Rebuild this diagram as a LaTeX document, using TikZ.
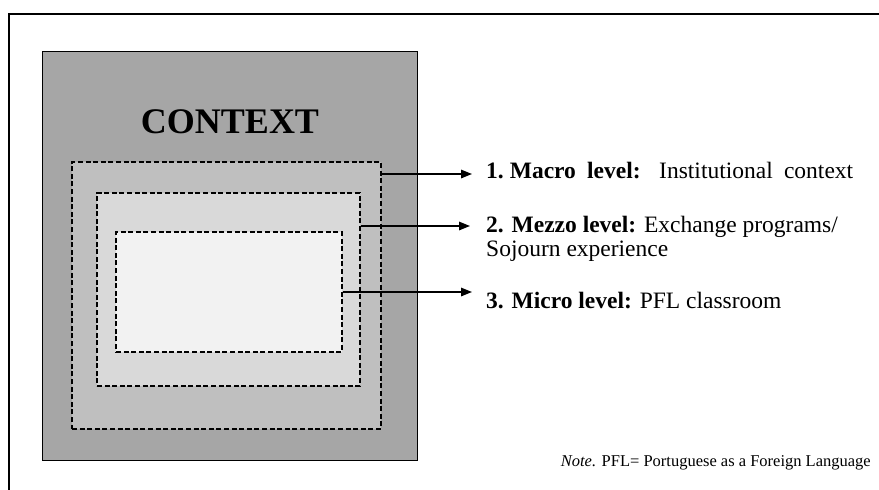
\documentclass[tikz,border=0pt]{standalone}
\usepackage{fontspec}
\setmainfont{Liberation Serif}
\usetikzlibrary{arrows.meta}
\definecolor{ctxgray}{HTML}{A6A6A6}
\definecolor{macrogray}{HTML}{BFBFBF}
\definecolor{mezzogray}{HTML}{D9D9D9}
\definecolor{microgray}{HTML}{F2F2F2}
\tikzset{
  levelbox/.style={draw=black, line width=1.1pt, dash pattern=on 5pt off 2.6pt, inner sep=0pt},
  leveltext/.style={anchor=base west, inner sep=0pt, font=\fontsize{23.5}{25}\selectfont, align=left},
  arr/.style={line width=1.5pt, -{Triangle[length=11pt,width=8.5pt]}},
  frameline/.style={line width=1.5pt}
}
\begin{document}
\begin{tikzpicture}[x=1pt, y=-1pt]
\useasboundingbox (0,0) rectangle (879,490);
% outer frame (top and left edges)
\draw[frameline] (9,490) -- (9,14) -- (879,14);
% context box
\node[draw=black, line width=0.9pt, fill=ctxgray, inner sep=0pt,
      minimum width=375pt, minimum height=409pt] (context) at (229.5,255.5) {};
\node[anchor=base, inner sep=0pt, font=\fontsize{36}{40}\selectfont\bfseries] (ctxlabel) at (230,133) {CONTEXT};
% nested levels
\node[levelbox, fill=macrogray, minimum width=309pt, minimum height=267pt] (macro) at (226.5,295.5) {};
\node[levelbox, fill=mezzogray, minimum width=263pt, minimum height=193pt] (mezzo) at (228.5,289.5) {};
\node[levelbox, fill=microgray, minimum width=226pt, minimum height=120pt] (micro) at (229,292) {};
% labels
\node[leveltext] (lab1) at (486,178) {\makebox[367pt][s]{\textbf{1.\kern6pt Macro level:} Institutional context}};
\node[leveltext] (lab2) at (486,232) {\textbf{2. Mezzo level:} Exchange programs/};
\node[leveltext] (lab2b) at (486,256) {Sojourn experience};
\node[leveltext] (lab3) at (486,308) {\textbf{3. Micro level:} PFL classroom};
% arrow tips
\coordinate (tip1) at (472,174);
\coordinate (tip2) at (470,226);
\coordinate (tip3) at (472,292);
\draw[arr] (macro.east |- tip1) -- (tip1);
\draw[arr] (mezzo.east |- tip2) -- (tip2);
\draw[arr] (micro.east |- tip3) -- (tip3);
% note
\node[anchor=base east, inner sep=0pt, font=\fontsize{16.5}{18}\selectfont] (note) at (871,466) {\textit{Note.} PFL= Portuguese as a Foreign Language};
\end{tikzpicture}
\end{document}
